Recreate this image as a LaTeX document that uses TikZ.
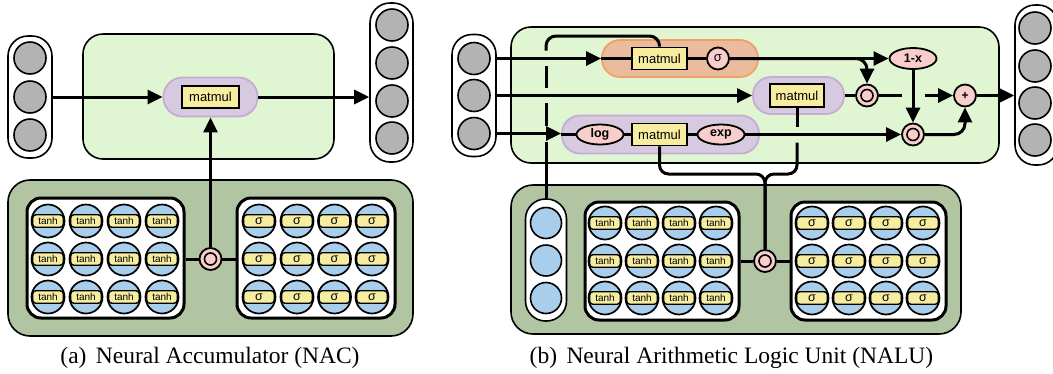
\documentclass[tikz,border=0pt]{standalone}
\usepackage{fontspec}
\setmainfont{Liberation Serif}
\newfontfamily\lsans{Liberation Sans}
\usetikzlibrary{arrows.meta,shapes.geometric,calc}
\definecolor{lgreen}{RGB}{224,246,211}
\definecolor{dgreen}{RGB}{177,197,163}
\definecolor{cgray}{RGB}{179,179,179}
\definecolor{cblue}{RGB}{169,206,236}
\definecolor{cyellow}{RGB}{246,237,160}
\definecolor{pfill}{RGB}{215,201,223}
\definecolor{pborder}{RGB}{196,172,210}
\definecolor{ofill}{RGB}{234,188,157}
\definecolor{oborder}{RGB}{237,161,102}
\definecolor{cpink}{RGB}{248,206,204}
\newcommand\sgfont{\lsans\fontsize{12.5}{12.5}\selectfont}
\newcommand\nrn[4]{%
  \node[nrnc] (#1) at (#2,#3) {};
  \node[nband] (#1b) at (#2,#3) {#4};
}
\begin{document}
\begin{tikzpicture}[x=1pt,y=-1pt,
  conn/.style={line width=3pt},
  arr/.style={line width=3pt,-{Triangle[length=15pt,width=14pt]}},
  col/.style={draw,line width=1.6pt,fill=white,rounded corners=20pt,inner sep=0},
  gcirc/.style={circle,draw,line width=1.6pt,fill=cgray,minimum size=32pt,inner sep=0},
  bcirc/.style={circle,draw,line width=1.6pt,fill=cblue,minimum size=31pt,inner sep=0},
  lgbox/.style={draw,line width=1.6pt,fill=lgreen,rounded corners=20pt,inner sep=0},
  dgbox/.style={draw,line width=1.6pt,fill=dgreen,rounded corners=22pt,inner sep=0},
  wbox/.style={draw,line width=3pt,fill=white,rounded corners=14pt,inner sep=0},
  ppill/.style={draw=pborder,line width=1.8pt,fill=pfill,inner sep=0},
  opill/.style={draw=oborder,line width=1.8pt,fill=ofill,inner sep=0},
  mm/.style={draw,line width=1.7pt,fill=cyellow,minimum width=56pt,minimum height=22pt,inner sep=0,font=\lsans\fontsize{13}{13}\selectfont},
  pk/.style={draw,line width=1.8pt,fill=cpink,inner sep=0},
  pkc/.style={pk,circle,minimum size=22pt},
  pke/.style={pk,ellipse,minimum width=47pt,minimum height=20pt,font=\lsans\bfseries\fontsize{12.5}{12.5}\selectfont},
  odot/.style={pkc,path picture={\draw[line width=1.6pt] (path picture bounding box.center) circle (6pt);
     \fill (path picture bounding box.center) circle (2.2pt);}},
  nrnc/.style={circle,draw,line width=1.7pt,fill=cblue,minimum size=33pt,inner sep=0},
  nband/.style={rectangle,draw,line width=1.4pt,fill=cyellow,rounded corners=3pt,minimum width=30.5pt,minimum height=12.5pt,inner sep=0,font=\lsans\fontsize{10}{10}\selectfont},
  captext/.style={font=\fontsize{23.5}{23.5}\selectfont,inner sep=0}
]
\useasboundingbox (0,0) rectangle (1053,373);

%%%%%%%%%%%%%%%% Panel (a)
\node[col,minimum width=44pt,minimum height=122pt] (inA) at (30,97) {};
\foreach \k/\y in {1/58,2/97,3/135} \node[gcirc] (inA\k) at (30,\y) {};
\node[lgbox,minimum width=251pt,minimum height=125pt] (nacbox) at (208.5,96.5) {};
\node[ppill,rounded corners=19pt,minimum width=94pt,minimum height=39pt] (pillA) at (210.5,97) {};
\node[mm,minimum width=57pt] (matA) at (210.5,97) {matmul};
\node[col,minimum width=43pt,minimum height=159pt] (outA) at (391.5,82.5) {};
\foreach \k/\y in {1/25,2/63,3/101,4/138} \node[gcirc] (outA\k) at (392,\y) {};

\node[dgbox,minimum width=405pt,minimum height=156pt] (dkA) at (210.5,258) {};
\node[wbox,minimum width=157pt,minimum height=120pt] (wAL) at (105.5,258) {};
\node[wbox,minimum width=158pt,minimum height=120pt] (wAR) at (316,258) {};
\foreach \i/\x in {1/48,2/86,3/124,4/162}
  \foreach \j/\y in {1/221,2/259,3/297} {\nrn{aL\i\j}{\x}{\y}{tanh}}
\foreach \i/\x in {1/259,2/297,3/334.5,4/372}
  \foreach \j/\y in {1/221,2/259,3/297} {\nrn{aR\i\j}{\x}{\y}{\sgfont σ}}
\node[odot] (odA) at (210.5,259) {};

\draw[arr] (inA.east) -- (inA.east -| pillA.west);
\draw[arr] (pillA.east) -- (pillA.east -| outA.west);
\draw[conn] (odA.west -| wAL.east) -- (odA.west);
\draw[conn] (odA.east) -- (odA.east -| wAR.west);
\draw[arr] (odA.north) -- (pillA.south);

\node[captext] (capA) at (210,358) {(a)\hspace{0.4em}Neural Accumulator (NAC)};

%%%%%%%%%%%%%%%% Panel (b)
\node[col,minimum width=44pt,minimum height=122pt] (inB) at (474,95.5) {};
\foreach \k/\y in {1/58.5,2/95.5,3/133.5} \node[gcirc] (inB\k) at (474,\y) {};
\node[lgbox,minimum width=488pt,minimum height=136pt] (nalubox) at (755,95) {};

\node[opill,rounded corners=18pt,minimum width=156pt,minimum height=37pt] (opil) at (680,58.5) {};
\node[mm,minimum width=55pt] (matO) at (659.5,58.5) {matmul};
\node[pkc,font=\lsans\fontsize{13}{13}\selectfont] (sigO) at (718,58.5) {σ};

\node[ppill,rounded corners=18pt,minimum width=91pt,minimum height=37pt] (mpil) at (798.5,95.5) {};
\node[mm,minimum width=54pt,minimum height=23pt] (matM) at (797,95.5) {matmul};

\node[ppill,rounded corners=18pt,minimum width=197pt,minimum height=38pt] (lpil) at (660.5,134.5) {};
\node[pke] (logN) at (600,134.5) {log};
\node[mm,minimum width=55pt] (matL) at (659.5,134.5) {matmul};
\node[pke] (expN) at (721,134.5) {exp};

\node[odot] (od1) at (867,95.5) {};
\node[pke,minimum height=21pt] (onex) at (913,58.5) {1-x};
\node[odot] (od2) at (913,134.5) {};
\node[pkc,font=\lsans\bfseries\fontsize{12}{12}\selectfont] (plus) at (965,95.5) {+};

\node[col,minimum width=43pt,minimum height=160pt] (outB) at (1036.5,85) {};
\foreach \k/\y in {1/28,2/66,3/103,4/140} \node[gcirc] (outB\k) at (1035,\y) {};

\node[dgbox,minimum width=450pt,minimum height=149pt] (dkB) at (736,259.5) {};
\node[col,minimum width=41pt,minimum height=122pt] (bcol) at (546,260) {};
\foreach \k/\y in {1/223,2/260.5,3/298} \node[bcirc] (bc\k) at (546,\y) {};
\node[wbox,minimum width=154pt,minimum height=118pt] (wBL) at (662,261) {};
\node[wbox,minimum width=155pt,minimum height=118pt] (wBR) at (868.5,261) {};
\foreach \i/\x in {1/605,2/642,3/679,4/716}
  \foreach \j/\y in {1/223,2/261,3/298} {\nrn{bL\i\j}{\x}{\y}{tanh}}
\foreach \i/\x in {1/812,2/849,3/886,4/923}
  \foreach \j/\y in {1/223,2/261,3/298} {\nrn{bR\i\j}{\x}{\y}{\sgfont σ}}
\node[odot] (odB) at (765,261) {};

% inputs
\draw[arr] (inB1 -| inB.east) -- (inB1 -| opil.west);
\draw[arr] (inB2 -| inB.east) -- (inB2 -| mpil.west);
\draw[arr] (inB3 -| inB.east) -- (inB3 -| lpil.west);
% gate path
\draw[conn] (opil.west) -- (matO.west);
\draw[conn] (matO.east) -- (sigO.west);
\draw[arr] (sigO.east) -- (onex.west);
\draw[arr,rounded corners=11pt] (sigO.east) -| (od1.north);
% add path
\draw[conn] (mpil.east) -- (od1.west);
\coordinate (g1a) at (902,95.5);
\coordinate (g1b) at (925,95.5);
\draw[conn] (od1.east) -- (g1a);
\draw[arr] (g1b) -- (plus.west);
\draw[arr] (onex.south) -- (od2.north);
% multiply path
\draw[conn] (lpil.west) -- (logN.west);
\draw[conn] (logN.east) -- (matL.west);
\draw[conn] (matL.east) -- (expN.west);
\draw[arr] (expN.east) -- (od2.west);
\draw[arr,rounded corners=11pt] (od2.east) -| (plus.south);
\draw[arr] (plus.east) -- (plus.east -| outB.west);
% gate weights line with crossing gaps
\coordinate (t1) at (546,36);
\coordinate (d1) at (546,50.5);
\coordinate (d2a) at (546,66);
\coordinate (d2b) at (546,88);
\coordinate (d3a) at (546,103);
\coordinate (d3b) at (546,126);
\coordinate (d4a) at (546,141.5);
\draw[conn,rounded corners=10pt] (matO.north) |- (t1) -- (d1);
\draw[conn] (d2a) -- (d2b);
\draw[conn] (d3a) -- (d3b);
\draw[conn] (d4a) -- (bcol.north);
% brace from the two matmuls to the shared weights
\coordinate (bj) at (765,174);
\coordinate (m1) at (797,127);
\coordinate (m2) at (797,142.5);
\draw[conn,rounded corners=9pt] (matL.south) |- (bj) -- (odB.north);
\draw[conn] (matM.south) -- (m1);
\draw[conn,rounded corners=9pt] (m2) |- (bj) -- (odB.north);
\draw[conn] (odB.west -| wBL.east) -- (odB.west);
\draw[conn] (odB.east) -- (odB.east -| wBR.west);

\node[captext] (capB) at (731.5,358) {(b)\hspace{0.4em}Neural Arithmetic Logic Unit (NALU)};
\end{tikzpicture}
\end{document}
